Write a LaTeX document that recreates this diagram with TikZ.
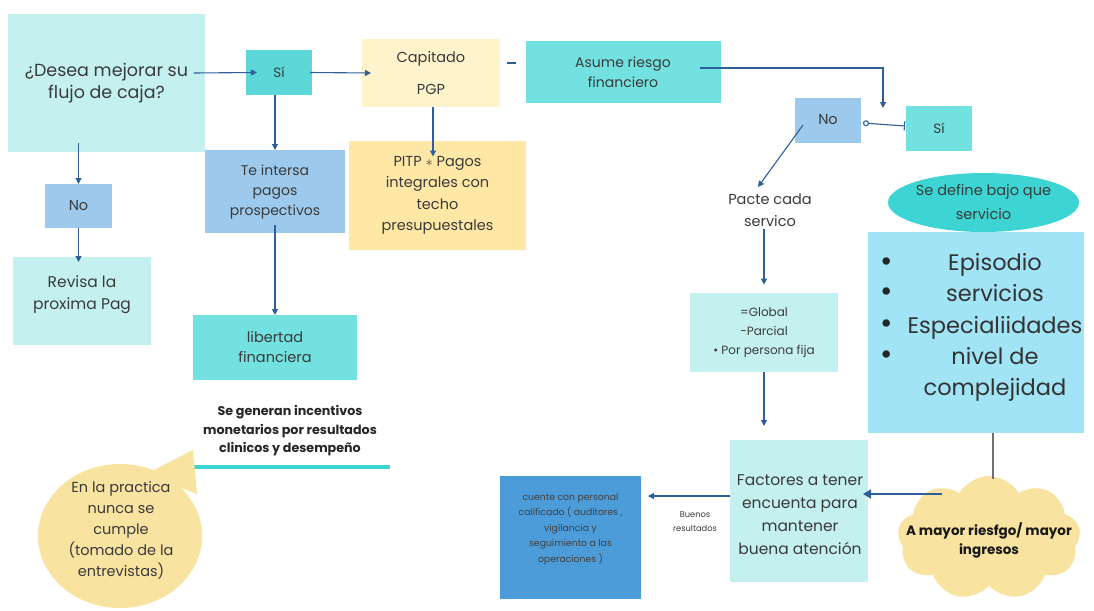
\documentclass[tikz,border=0pt]{standalone}
\usepackage{fontspec}
\setmainfont{Poppins}
\newfontfamily\popfont{Poppins}
\usetikzlibrary{arrows.meta,shapes.geometric,shapes.symbols}
\definecolor{lcyan}{HTML}{C4F1EF}
\definecolor{turq}{HTML}{74E1E1}
\definecolor{turqd}{HTML}{5DD8D8}
\definecolor{lblue}{HTML}{9DC9EC}
\definecolor{ypale}{HTML}{FFF3CC}
\definecolor{ymid}{HTML}{FFE7A6}
\definecolor{listc}{HTML}{A0E4F5}
\definecolor{ellc}{HTML}{3DD5D3}
\definecolor{cuentec}{HTML}{4C9CDA}
\definecolor{bubc}{HTML}{F8E3A1}
\definecolor{arrc}{HTML}{2F5F9A}
\definecolor{txtc}{HTML}{3A3A3A}
\definecolor{grayl}{HTML}{707070}
\newcommand\myfs[2]{\fontsize{#1}{#2}\selectfont}
\begin{document}
\begin{tikzpicture}[x=1pt,y=-1pt,
  box/.style={rectangle, inner sep=0pt, outer sep=0pt, align=center, text=txtc},
  lbl/.style={inner sep=0pt, align=center, text=txtc},
  conn/.style={draw=arrc, line width=1.1pt, -{Triangle[length=6pt,width=6pt]}},
  plainc/.style={draw=arrc, line width=1.1pt}]
\useasboundingbox (0,0) rectangle (1094,610);

% left column
\node[box, fill=lcyan, minimum width=197pt, minimum height=138pt, font=\myfs{17.5}{22}] (q) at (106.5,83) {¿Desea mejorar su\\flujo de caja?};
\node[box, fill=turqd, minimum width=66pt, minimum height=45pt, font=\myfs{13.5}{17}] (si1) at (279,72.5) {Sí};
\node[box, fill=ypale, minimum width=138pt, minimum height=67pt, font=\myfs{14.5}{32}] (cap) at (431,73) {Capitado\\PGP};
\node[box, fill=turq, minimum width=195pt, minimum height=62pt, font=\myfs{14}{20}] (asume) at (623,72) {Asume riesgo\\financiero};
\node[box, fill=lblue, minimum width=67pt, minimum height=44pt, font=\myfs{14.5}{18}] (no1) at (78.5,206) {No};
\node[box, fill=lcyan, minimum width=138pt, minimum height=88pt] (rev) at (82,301) {};
\node[lbl, font=\myfs{15.5}{22}] (revt) at (82,295) {Revisa la\\proxima Pag};
\node[box, fill=lblue, minimum width=140pt, minimum height=83pt, font=\myfs{14}{20}] (te) at (275,191.5) {Te intersa\\pagos\\prospectivos};
\node[box, fill=ymid, minimum width=177pt, minimum height=109pt, font=\myfs{14.5}{21.5}] (pitp) at (437.5,195.5) {PITP $\ast$ Pagos\\integrales con\\techo\\presupuestales};
\node[box, fill=turq, minimum width=164pt, minimum height=65pt, font=\myfs{14.5}{20}] (lib) at (275,347.5) {libertad\\financiera};
\node[lbl, font=\popfont\bfseries\myfs{12.7}{18.5}, text=black!85] (inc) at (290,431) {Se generan incentivos\\monetarios por resultados\\clinicos y desempeño};
\draw[line width=4pt, ellc] (188,467) -- (390,467);

% speech bubble
\fill[bubc] (120,536) ellipse [x radius=82, y radius=72];
\fill[bubc] (146,474) -- (193,450) -- (197,494) -- cycle;
\node[lbl, font=\myfs{14.5}{21}] (bubt) at (121,530) {En la practica\\nunca se\\cumple\\(tomado de la\\entrevistas)};

% right part
\node[box, fill=lblue, minimum width=66pt, minimum height=45pt, font=\myfs{14.5}{18}] (no2) at (828,120) {No};
\node[box, fill=turq, minimum width=66pt, minimum height=45pt, font=\myfs{13.5}{17}] (si2) at (939,128) {Sí};
\coordinate (jn) at (883,108);
\node[lbl, font=\myfs{14.5}{22}] (pacte) at (770,210) {Pacte cada\\servico};
\node[ellipse, fill=ellc, inner sep=0pt, minimum width=181pt, minimum height=59pt, align=center, text=txtc, font=\myfs{14.5}{24}] (ell) at (983.5,202.5) {Se define bajo que\\servicio};
\node[box, fill=listc, minimum width=216pt, minimum height=201pt] (list) at (976,332.5) {};
\node[lbl, font=\myfs{22.5}{31.3}, text=black!80] (listt) at (995,327.5) {Episodio\\servicios\\Especialiidades\\nivel de\\complejidad};
\foreach \yy/\nm in {265/b1,295/b2,327/b3,358/b4}
  \node[lbl, font=\myfs{30}{30}, text=black!85] (\nm) at (887,\yy) {•};
\node[box, fill=lcyan, minimum width=148pt, minimum height=79pt, font=\myfs{12}{19}] (glob) at (764,332.5) {=Global\\-Parcial\\• Por persona fija};
\node[box, fill=lcyan, minimum width=138pt, minimum height=142pt] (fact) at (799,511) {};
\node[lbl, font=\myfs{15.5}{23}] (factt) at (800,515) {Factores a tener\\encuenta para\\mantener\\buena atención};
\node[box, fill=cuentec, minimum width=141pt, minimum height=123pt] (cuente) at (570.5,537) {};
\node[lbl, font=\myfs{9.3}{15.5}, text=black!75] (cuentet) at (570.5,529) {cuente con personal\\calificado ( auditores ,\\vigilancia y\\seguimiento a las\\operaciones )};
\node[cloud, cloud puffs=9, cloud puff arc=120, aspect=1.5, fill=bubc, inner sep=0pt, minimum width=183pt, minimum height=124pt] (cloud) at (989,538) {};
\node[lbl, font=\popfont\bfseries\myfs{13.5}{19}, text=black!90] (cloudt) at (989,540) {A mayor riesfgo/ mayor\\ingresos};
\node[lbl, font=\myfs{8.3}{14}] (buenos) at (695,522) {Buenos\\resultados};
\coordinate (cin) at (942,494);

% connectors
\draw[conn] ([xshift=-11pt,yshift=10pt]q.east) -- ([xshift=11pt]si1.west);
\draw[conn] ([xshift=-2pt]si1.east) -- ([xshift=9pt]cap.west);
\draw[conn] (si1.south -| te.north) -- (te.north);
\draw[conn] ([xshift=2pt]cap.south) -- ++(0,50);
\draw[conn] ([yshift=9pt]q.south -| no1.north) -- (no1.north);
\draw[conn] (no1.south) -- ++(0,34);
\draw[conn] ([yshift=8pt]te.south) -- (lib.north);
\draw[plainc] (cap.east) ++(7,-10) -- ++(9,0);
\draw[conn] ([xshift=-21pt,yshift=4pt]asume.east) -| (jn);
\draw[draw=arrc, line width=1.1pt, {Circle[open,length=6pt,width=6pt]}-{Bar[width=9pt]}] ([xshift=2pt,yshift=-3pt]no2.east) -- ([xshift=-1pt,yshift=2pt]si2.west);
\draw[conn] ([shift={(-25pt,-5pt)}]no2.center) -- ++(-45,62);
\draw[conn] ([yshift=-2pt]pacte.south -| glob.north) -- ++(0,56);
\draw[conn] (glob.south) -- ++(0,54);
\draw[conn, line width=1.7pt, -{Triangle[length=8pt,width=9pt]}] (cin) -- ([xshift=-5pt]cin -| fact.east);
\draw[conn] ([yshift=15pt]fact.west) -- ++(-82,0);
\draw[draw=grayl, line width=1.3pt] ([xshift=17pt]list.south) -- ++(0,46);
\end{tikzpicture}
\end{document}
